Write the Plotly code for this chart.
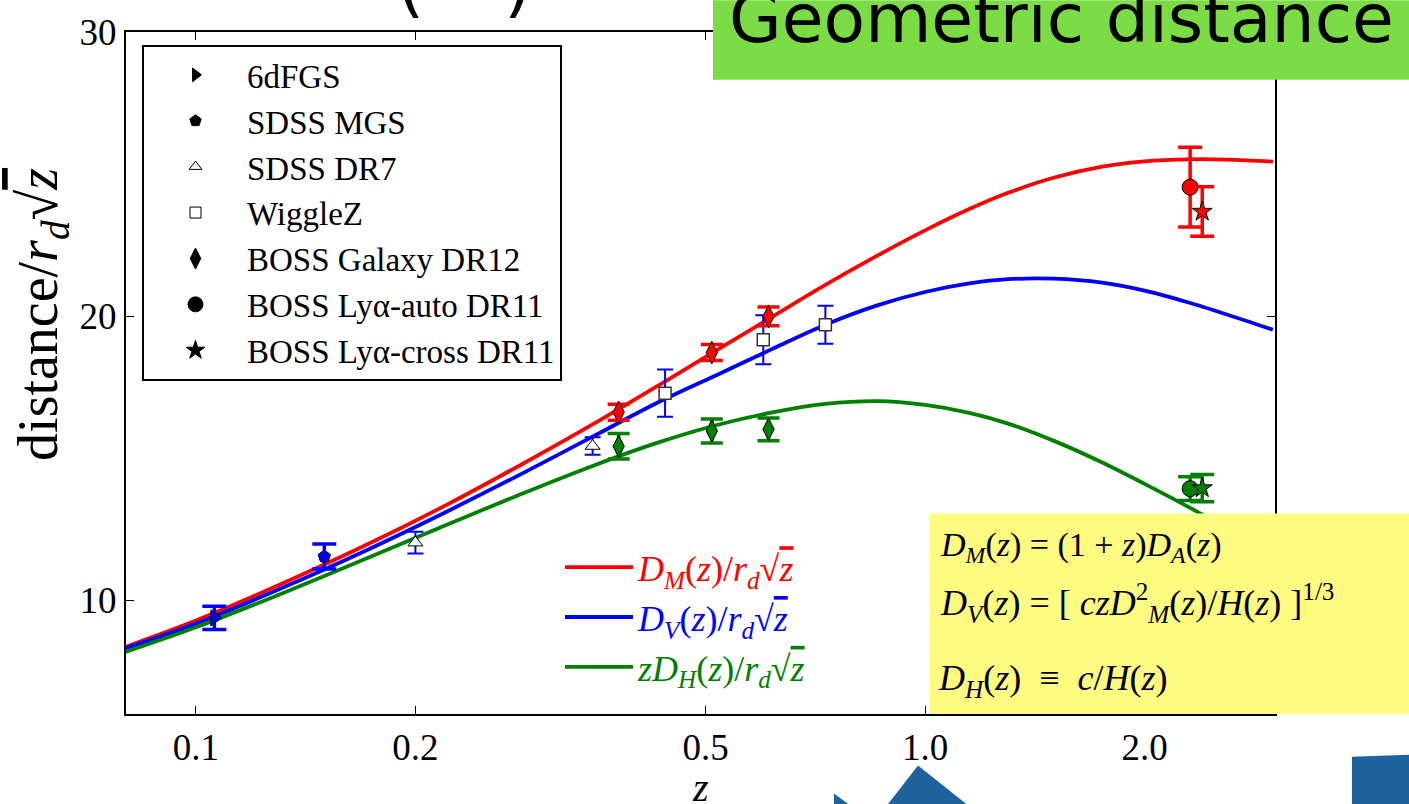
import plotly.graph_objects as go

W, H = 1409, 804
L, R, T, B = 126, 1275, 27, 714


def px(x):
    return (x - L) / (R - L)


def py(y):
    return (B - y) / (B - T)


# ---------------- model curves ----------------
z_curve = [0.08, 0.1, 0.13, 0.17, 0.22, 0.28, 0.35, 0.43, 0.52, 0.62, 0.73, 0.86, 1.0,
           1.15, 1.3, 1.5, 1.75, 2.0, 2.3, 2.6, 3.0]
dm_curve = [8.36, 9.29, 10.54, 11.91, 13.34, 14.79, 16.19, 17.55, 18.83, 20.01, 21.10, 22.13, 23.02,
            23.77, 24.34, 24.87, 25.26, 25.45, 25.52, 25.51, 25.44]
dv_curve = [8.31, 9.18, 10.39, 11.72, 13.10, 14.46, 15.76, 16.96, 17.95, 18.87, 19.70, 20.38, 20.85,
            21.15, 21.30, 21.32, 21.18, 20.90, 20.48, 20.05, 19.52]
dh_curve = [8.18, 9.05, 10.20, 11.44, 12.64, 13.75, 14.73, 15.55, 16.18, 16.62, 16.91, 17.01, 16.88,
            16.60, 16.22, 15.62, 14.85, 14.10, 13.28, 12.50, 11.50]

# ---------------- measurements ----------------
z_6df, dv_6df, e_6df = [0.106], [9.38], [0.41]
z_mgs, dv_mgs, e_mgs = [0.15], [11.54], [0.44]
z_dr7, dv_dr7, e_dr7 = [0.20, 0.35], [12.03, 15.43], [0.38, 0.31]
z_wz, dv_wz, e_wz = [0.44, 0.60, 0.73], [17.29, 19.17, 19.70], [0.83, 0.86, 0.67]
z_boss = [0.38, 0.51, 0.61]
dm_boss, edm_boss = [16.62, 18.72, 19.99], [0.28, 0.28, 0.33]
dh_boss, edh_boss = [15.42, 15.96, 16.02], [0.45, 0.42, 0.40]
z_auto, dm_auto, edm_auto, dh_auto, edh_auto = [2.31], [24.54], [1.40], [13.93], [0.42]
z_cross, dm_cross, edm_cross, dh_cross, edh_cross = [2.40], [23.68], [0.87], [13.95], [0.48]

x_ticks = [0.1, 0.2, 0.5, 1.0, 2.0]
x_ticktext = ["0.1", "0.2", "0.5", "1.0", "2.0"]
y_ticks = [10, 20, 30]
y_ticktext = ["10", "20", "30"]

legend_names = ["6dFGS", "SDSS MGS", "SDSS DR7", "WiggleZ", "BOSS Galaxy DR12",
                "BOSS Ly\u03b1-auto DR11", "BOSS Ly\u03b1-cross DR11"]
legend_symbols = ["triangle-right", "pentagon", "triangle-up-open", "square-open",
                  "diamond-tall", "circle", "star"]
legend_sizes = [12, 12, 11, 11, 15, 15, 14]

RED, BLUE, GREEN = "#ff0000", "#0000ff", "#008000"
SERIF = "Liberation Serif"

OL = "<span style='text-decoration:overline'><i>z</i></span>"
name_dm = f"<span style='color:{RED}'><i>D</i><sub><i>M</i></sub>(<i>z</i>)/<i>r</i><sub><i>d</i></sub>\u221a{OL}</span>"
name_dv = f"<span style='color:{BLUE}'><i>D</i><sub><i>V</i></sub>(<i>z</i>)/<i>r</i><sub><i>d</i></sub>\u221a{OL}</span>"
name_dh = f"<span style='color:{GREEN}'><i>zD</i><sub><i>H</i></sub>(<i>z</i>)/<i>r</i><sub><i>d</i></sub>\u221a{OL}</span>"

fig = go.Figure()

# curves
for k, (yv, col, nm) in enumerate([(dm_curve, RED, name_dm), (dv_curve, BLUE, name_dv), (dh_curve, GREEN, name_dh)]):
    fig.add_trace(go.Scatter(x=z_curve, y=yv, mode="lines", name=nm, legendgroup=f"c{k}",
                             line=dict(color=col, width=3.8, shape="spline", smoothing=0.9),
                             legend="legend2", hoverinfo="skip"))


def pts(x, y, err, color, symbol, size, fill, ethick, ewidth, edge="black", ew=1):
    fig.add_trace(go.Scatter(
        x=x, y=y, mode="markers", showlegend=False,
        marker=dict(symbol=symbol, size=size, color=fill, line=dict(color=edge, width=ew)),
        error_y=dict(type="data", array=err, visible=True, color=color,
                     thickness=ethick, width=ewidth)))


pts(z_6df, dv_6df, e_6df, BLUE, "triangle-right", 14, BLUE, 3.5, 12)
pts(z_mgs, dv_mgs, e_mgs, BLUE, "pentagon", 13, BLUE, 3.5, 12)
pts(z_dr7, dv_dr7, e_dr7, BLUE, "triangle-up", 13, "white", 2, 8)
pts(z_wz, dv_wz, e_wz, BLUE, "square", 12, "white", 2, 8, edge="#333333", ew=1.5)
pts(z_boss, dm_boss, edm_boss, RED, "diamond-tall", 16, RED, 3.5, 11)
pts(z_boss, dh_boss, edh_boss, GREEN, "diamond-tall", 16, GREEN, 3.5, 11)
pts(z_auto, dm_auto, edm_auto, RED, "circle", 16, RED, 3.5, 12)
pts(z_auto, dh_auto, edh_auto, GREEN, "circle", 16, GREEN, 3.5, 12)
pts(z_cross, dm_cross, edm_cross, RED, "star", 15, RED, 3.5, 12)
pts(z_cross, dh_cross, edh_cross, GREEN, "star", 15, GREEN, 3.5, 12)

# legend 1 entries (black symbols)
for i, (nm, sym, sz) in enumerate(zip(legend_names, legend_symbols, legend_sizes)):
    fig.add_trace(go.Scatter(x=[None], y=[None], mode="markers", name=nm,
                             legendgroup=f"g{i}", legend="legend",
                             marker=dict(symbol=sym, size=sz, color="black",
                                         line=dict(color="black", width=1))))

axis_common = dict(showline=True, linewidth=2, linecolor="black", mirror="ticks",
                   ticks="inside", ticklen=8, tickwidth=1, tickcolor="black",
                   showgrid=False, zeroline=False,
                   tickfont=dict(family=SERIF, size=37, color="black"))

fig.update_xaxes(type="log", range=[-1.0959, 0.4800], tickvals=x_ticks, ticktext=x_ticktext,
                 **axis_common)
fig.update_yaxes(range=[6.0, 30.0], tickvals=y_ticks, ticktext=y_ticktext, **axis_common)

shapes = [
    dict(type="rect", xref="paper", yref="paper", x0=px(713), x1=px(1409), y0=py(75), y1=py(-5),
         fillcolor="#7cdc46", line=dict(width=0), layer="above"),
    dict(type="rect", xref="paper", yref="paper", x0=px(930), x1=px(1409), y0=py(714), y1=py(512),
         fillcolor="#fffb80", line=dict(width=0), layer="above"),
]


def path(points):
    s = "M " + " L ".join(f"{px(a):.5f},{py(b):.5f}" for a, b in points) + " Z"
    return s


for poly in [[(887, 806), (918, 766), (968, 806)],
             [(834, 794), (850, 806), (834, 806)],
             [(1352, 757), (1412, 755), (1412, 806), (1352, 806)]]:
    shapes.append(dict(type="path", xref="paper", yref="paper", path=path(poly),
                       fillcolor="#1f62a0", line=dict(width=0), layer="above"))

annotations = [
    dict(text="Geometric distance", xref="paper", yref="paper", x=px(727), y=py(13),
         xanchor="left", yanchor="middle", showarrow=False,
         font=dict(family="DejaVu Sans", size=68, color="black")),
    dict(text="(", xref="paper", yref="paper", x=px(410), y=py(-20), xanchor="center",
         yanchor="middle", showarrow=False, font=dict(family="DejaVu Sans", size=70, color="black")),
    dict(text=")", xref="paper", yref="paper", x=px(517), y=py(-20), xanchor="center",
         yanchor="middle", showarrow=False, font=dict(family="DejaVu Sans", size=70, color="black")),
    dict(text="distance/<i>r</i><sub><i>d</i></sub>\u221a" + OL, xref="paper", yref="paper",
         x=px(42), y=py(312), textangle=-90, showarrow=False, xanchor="center", yanchor="middle",
         font=dict(family=SERIF, size=56, color="black")),
    dict(text="<i>z</i>", xref="paper", yref="paper", x=px(700), y=py(788), showarrow=False,
         xanchor="center", yanchor="middle", font=dict(family=SERIF, size=40, color="black")),
    dict(text="<i>D</i><sub><i>M</i></sub>(<i>z</i>) = (1 + <i>z</i>)<i>D</i><sub><i>A</i></sub>(<i>z</i>)",
         xref="paper", yref="paper", x=px(938), y=py(546), xanchor="left", yanchor="middle",
         showarrow=False, font=dict(family=SERIF, size=34, color="black")),
    dict(text="<i>D</i><sub><i>V</i></sub>(<i>z</i>) = [ <i>czD</i><sup>2</sup><sub><i>M</i></sub>(<i>z</i>)/<i>H</i>(<i>z</i>) ]<sup>1/3</sup>",
         xref="paper", yref="paper", x=px(938), y=py(602), xanchor="left", yanchor="middle",
         showarrow=False, font=dict(family=SERIF, size=36, color="black")),
    dict(text="<i>D</i><sub><i>H</i></sub>(<i>z</i>) \u00a0\u2261\u00a0 <i>c</i>/<i>H</i>(<i>z</i>)",
         xref="paper", yref="paper", x=px(936), y=py(680), xanchor="left", yanchor="middle",
         showarrow=False, font=dict(family=SERIF, size=36, color="black")),
]

fig.update_layout(
    width=W, height=H,
    margin=dict(l=L, r=W - R, t=T, b=H - B, pad=0),
    paper_bgcolor="white", plot_bgcolor="white",
    shapes=shapes, annotations=annotations,
    legend=dict(x=px(142), y=py(40), xanchor="left", yanchor="top",
                bordercolor="black", borderwidth=2, bgcolor="white",
                font=dict(family=SERIF, size=33, color="black"),
                itemwidth=93, tracegroupgap=0, itemsizing="trace"),
    legend2=dict(x=px(560), y=py(536), xanchor="left", yanchor="top",
                 bgcolor="rgba(0,0,0,0)", borderwidth=0,
                 font=dict(family=SERIF, size=36, color="black"),
                 itemwidth=68, tracegroupgap=0),
    showlegend=True,
)

fig.write_html("out.html", config={"displayModeBar": False},
               post_script="document.body.style.margin='0';document.body.style.overflow='hidden';")
